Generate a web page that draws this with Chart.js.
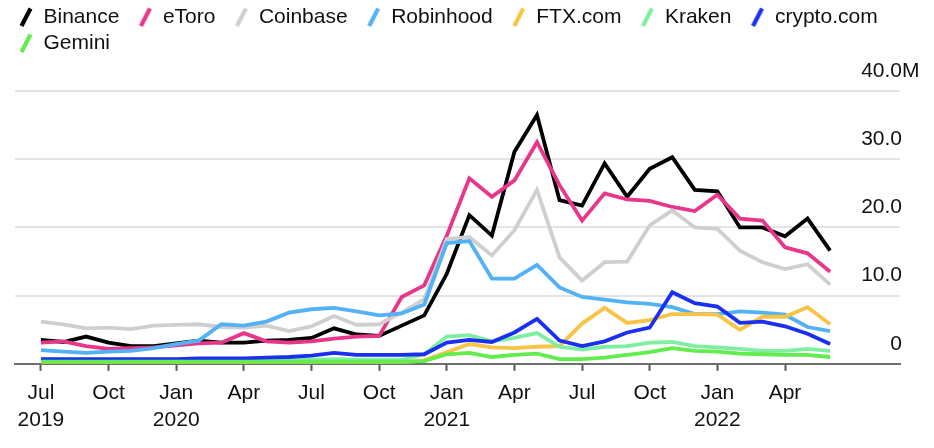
<!DOCTYPE html>
<html>
<head>
<meta charset="utf-8">
<script src="https://cdn.jsdelivr.net/npm/chart.js@4"></script>
<style>
html,body{margin:0;padding:0;background:#fff;}
#wrap{width:934px;height:448px;position:relative;}
</style>
</head>
<body>
<div id="wrap"><canvas id="c"></canvas></div>
<script>
// ---- data (millions), monthly Jul 2019 .. Jun 2022 ----
const months = ['Jul 2019','Aug 2019','Sep 2019','Oct 2019','Nov 2019','Dec 2019',
  'Jan 2020','Feb 2020','Mar 2020','Apr 2020','May 2020','Jun 2020',
  'Jul 2020','Aug 2020','Sep 2020','Oct 2020','Nov 2020','Dec 2020',
  'Jan 2021','Feb 2021','Mar 2021','Apr 2021','May 2021','Jun 2021',
  'Jul 2021','Aug 2021','Sep 2021','Oct 2021','Nov 2021','Dec 2021',
  'Jan 2022','Feb 2022','Mar 2022','Apr 2022','May 2022','Jun 2022'];

const seriesNames = ['Binance','eToro','Coinbase','Robinhood','FTX.com','Kraken','crypto.com','Gemini'];

const binance   = [3.5,3.2,4.0,3.1,2.6,2.6,3.0,3.4,3.1,3.1,3.4,3.5,3.8,5.2,4.3,4.1,5.6,7.1,13.2,21.8,18.8,31.1,36.5,24.0,23.2,29.4,24.5,28.6,30.3,25.5,25.3,20.0,20.0,18.7,21.3,16.6];
const etoro     = [3.1,3.3,2.6,2.2,2.3,2.4,2.7,3.0,3.1,4.5,3.3,3.1,3.3,3.7,4.0,4.1,9.8,11.5,18.8,27.2,24.5,26.9,32.5,26.2,21.0,25.0,24.1,23.9,23.0,22.4,24.8,21.3,21.0,17.1,16.2,13.5];
const coinbase  = [6.2,5.8,5.2,5.3,5.1,5.6,5.7,5.8,5.4,5.3,5.6,4.8,5.5,7.0,5.7,5.8,7.5,9.5,18.3,18.6,15.9,19.6,25.5,15.6,12.2,14.9,15.0,20.3,22.5,20.0,19.8,16.6,14.9,13.9,14.6,11.6];
const robinhood = [2.0,1.8,1.6,1.8,1.9,2.3,2.9,3.4,5.8,5.6,6.2,7.5,8.0,8.2,7.7,7.1,7.4,8.7,17.7,18.0,12.5,12.5,14.5,11.2,9.8,9.4,9.0,8.8,8.3,7.3,7.3,7.7,7.5,7.2,5.4,4.8];
const ftx       = [0.1,0.1,0.1,0.1,0.1,0.1,0.1,0.1,0.1,0.1,0.1,0.1,0.1,0.1,0.1,0.1,0.2,0.5,1.7,2.9,2.4,2.3,2.5,2.6,5.9,8.2,6.0,6.4,7.3,7.3,7.2,5.0,6.9,6.9,8.3,5.8];
const kraken    = [0.6,0.6,0.5,0.5,0.5,0.5,0.5,0.5,0.5,0.5,0.5,0.5,0.6,0.7,0.6,0.6,0.6,1.4,4.0,4.2,3.3,3.8,4.5,2.5,2.1,2.5,2.6,3.1,3.2,2.6,2.4,2.2,1.9,1.9,2.2,1.9];
const cryptocom = [0.7,0.7,0.7,0.7,0.7,0.7,0.7,0.8,0.8,0.8,0.9,1.0,1.2,1.6,1.3,1.3,1.3,1.4,3.1,3.5,3.2,4.6,6.6,3.4,2.6,3.3,4.6,5.3,10.5,8.9,8.4,6.0,6.2,5.5,4.4,2.9];
const gemini    = [0.3,0.3,0.3,0.3,0.3,0.3,0.3,0.3,0.3,0.3,0.3,0.3,0.3,0.3,0.3,0.3,0.3,0.4,1.4,1.6,1.0,1.3,1.5,0.7,0.7,0.9,1.3,1.7,2.3,1.9,1.8,1.5,1.4,1.3,1.3,1.0];

// quarterly x tick positions (month index) and their labels
const xTickIdx    = [0,3,6,9,12,15,18,21,24,27,30,33];
const xTickLabels = [['Jul','2019'],'Oct',['Jan','2020'],'Apr','Jul','Oct',['Jan','2021'],'Apr','Jul','Oct',['Jan','2022'],'Apr'];

const yTicks      = [0,10,20,30,40];
const yTickLabels = ['0','10.0','20.0','30.0','40.0'];
const yUnit       = 'M';

const colors = ['#000000','#e8368a','#cfcfcf','#52b2f4','#f8c445','#7eeea0','#1b2ff0','#62ec4e'];
const allSeries = [binance, etoro, coinbase, robinhood, ftx, kraken, cryptocom, gemini];

// ---- rendering ----
const FONT = '"Liberation Sans", Arial, Helvetica, sans-serif';
Chart.defaults.font.family = FONT;
Chart.defaults.color = '#111';

function slashMarker(color){
  const c = document.createElement('canvas');
  c.width = 28; c.height = 22;
  const g = c.getContext('2d');
  g.strokeStyle = color; g.lineWidth = 4.2; g.lineCap = 'butt';
  g.beginPath(); g.moveTo(16.5, 20); g.lineTo(25.5, 2.5); g.stroke();
  return c;
}

const datasets = allSeries.map((arr, k) => ({
  label: seriesNames[k],
  data: arr.map((v, i) => ({x: i, y: v})),
  borderColor: colors[k],
  backgroundColor: colors[k],
  borderWidth: 3.8,
  pointRadius: 0,
  pointHoverRadius: 0,
  pointStyle: slashMarker(colors[k]),
  tension: 0,
  fill: false,
  order: 20 - k
}));

const unitPlugin = {
  id: 'unitLabel',
  afterDraw(chart){
    const s = chart.scales.y;
    const ctx = chart.ctx;
    ctx.save();
    ctx.font = '21px ' + FONT;
    ctx.fillStyle = '#111';
    ctx.textAlign = 'left';
    ctx.textBaseline = 'middle';
    ctx.fillText(yUnit, s.left + 2, s.getPixelForValue(yTicks[yTicks.length - 1]) - 20);
    ctx.restore();
  }
};

new Chart(document.getElementById('c'), {
  type: 'line',
  data: { datasets },
  plugins: [unitPlugin],
  options: {
    responsive: true,
    maintainAspectRatio: false,
    animation: false,
    devicePixelRatio: 1,
    layout: { padding: { top: 1.5, left: 0, right: 34, bottom: 5 } },
    plugins: {
      tooltip: { enabled: false },
      legend: {
        position: 'top',
        align: 'start',
        labels: {
          usePointStyle: true,
          pointStyleWidth: 28,
          padding: 5,
          color: '#111',
          font: { size: 21, family: FONT },
          sort: (a, b) => a.datasetIndex - b.datasetIndex
        }
      }
    },
    scales: {
      x: {
        type: 'linear',
        min: -1.15,
        max: 38.1,
        afterBuildTicks: s => { s.ticks = xTickIdx.map(v => ({value: v})); },
        ticks: {
          autoSkip: false,
          maxRotation: 0,
          padding: 9,
          color: '#111',
          font: { size: 21, lineHeight: 1.29 },
          callback: (v) => { const j = xTickIdx.indexOf(v); return j >= 0 ? xTickLabels[j] : ''; }
        },
        grid: { display: true, drawOnChartArea: false, drawTicks: true, tickLength: 7, tickColor: '#555', tickWidth: 2 },
        border: { display: true, color: '#6e6e6e', width: 2 }
      },
      y: {
        position: 'right',
        min: 0,
        max: 44.04,
        afterBuildTicks: s => { s.ticks = yTicks.map(v => ({value: v})); },
        afterFit: s => { s.width = 0; },
        ticks: {
          mirror: true,
          padding: 2,
          labelOffset: -20,
          color: '#111',
          font: { size: 21 },
          callback: (v) => { const j = yTicks.indexOf(v); return j >= 0 ? yTickLabels[j] : ''; }
        },
        grid: {
          drawTicks: false,
          lineWidth: 2,
          color: (c) => (c.tick && c.tick.value === 0) ? 'rgba(0,0,0,0)' : '#e4e4e4'
        },
        border: { display: false }
      },
      yPad: {
        position: 'left',
        display: true,
        afterFit: s => { s.width = 15; },
        ticks: { display: false },
        grid: { display: false },
        border: { display: false }
      }
    }
  }
});
</script>
</body>
</html>
